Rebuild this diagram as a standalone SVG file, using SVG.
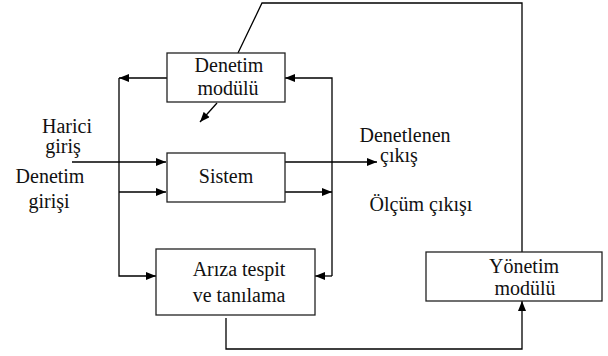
<svg xmlns="http://www.w3.org/2000/svg" width="608" height="356" viewBox="0 0 608 356">
<style>
.box{fill:#fff;stroke:#222;stroke-width:1.3}
.ln{fill:none;stroke:#000;stroke-width:1.3}
.t{font-family:'Times New Roman',Times,Tinos,'Liberation Serif','DejaVu Serif',FreeSerif,serif;font-size:20px;fill:#111;text-anchor:middle}
</style>
<defs>
<marker id="ah" viewBox="0 0 10 8" refX="10" refY="4" markerWidth="11" markerHeight="8" markerUnits="userSpaceOnUse" orient="auto">
<path d="M0,0 L10,4 L0,8 Z" fill="#000"/>
</marker>
</defs>
<rect width="608" height="356" fill="#fff"/>
<g id="connectors">
<line class="ln" x1="167" y1="78" x2="119" y2="78" marker-end="url(#ah)"/>
<polyline class="ln" points="332,276 332,78 285,78" marker-end="url(#ah)"/>
<polyline class="ln" points="119,78 119,276 156,276" marker-end="url(#ah)"/>
<line class="ln" x1="332" y1="276" x2="315" y2="276" marker-end="url(#ah)"/>
<line class="ln" x1="217" y1="103" x2="200" y2="122" marker-end="url(#ah)"/>
<polyline class="ln" points="238,53 262,3 522,3 522,252"/>
<polyline class="ln" points="226,318 226,349 522,349 522,301" marker-end="url(#ah)"/>
<line class="ln" x1="72" y1="162" x2="166" y2="162" marker-end="url(#ah)"/>
<line class="ln" x1="119" y1="192" x2="166" y2="192" marker-end="url(#ah)"/>
<line class="ln" x1="285" y1="162" x2="377" y2="162" marker-end="url(#ah)"/>
<line class="ln" x1="285" y1="192" x2="332" y2="192" marker-end="url(#ah)"/>
</g>
<g id="denetim-modulu">
<rect class="box" x="167" y="53" width="118" height="49"/>
<text class="t" x="229" y="72">Denetim</text>
<text class="t" x="228" y="95">modülü</text>
</g>
<g id="sistem">
<rect class="box" x="167" y="153" width="118" height="49"/>
<text class="t" x="226" y="183">Sistem</text>
</g>
<g id="ariza">
<rect class="box" x="156" y="249" width="159" height="66"/>
<text class="t" x="239" y="276">Arıza tespit</text>
<text class="t" x="239" y="302">ve tanılama</text>
</g>
<g id="yonetim">
<rect class="box" x="426" y="252" width="176" height="49"/>
<text class="t" x="524" y="273">Yönetim</text>
<text class="t" x="525" y="295">modülü</text>
</g>
<g id="labels">
<text class="t" x="67" y="133">Harici</text>
<text class="t" x="63" y="153">giriş</text>
<text class="t" x="50" y="183">Denetim</text>
<text class="t" x="49" y="208">girişi</text>
<text class="t" x="405" y="142">Denetlenen</text>
<text class="t" x="399" y="162">çıkış</text>
<text class="t" x="421" y="211">Ölçüm çıkışı</text>
</g>
</svg>
